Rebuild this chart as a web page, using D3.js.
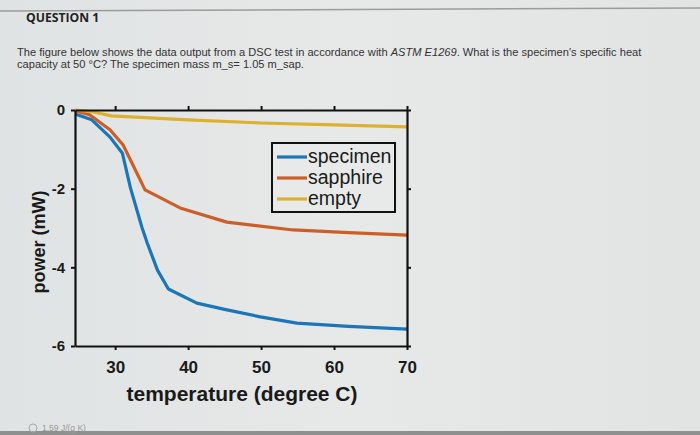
<!DOCTYPE html>
<html>
<head>
<meta charset="utf-8">
<script src="https://cdn.jsdelivr.net/npm/d3@7"></script>
<style>
  html, body { margin: 0; padding: 0; }
  body { width: 700px; height: 435px; overflow: hidden; background: #e5e7e7; }
  svg { display: block; }
</style>
</head>
<body>
<svg width="700" height="435"></svg>
<script>
// data
const temps = [24.5, 26.8, 29.3, 31.0, 32.1, 33.7, 34.4, 35.8, 37.3, 41.2, 45.0, 49.9, 54.9, 62.0, 70];
const specimen = [-0.1, -0.25, -0.69, -1.1, -1.98, -3.0, -3.38, -4.07, -4.55, -4.91, -5.07, -5.26, -5.42, -5.5, -5.57];
const sapphireT = [24.5, 26.5, 29.3, 31.1, 34.1, 38.9, 45.3, 54.4, 62.0, 70];
const sapphire = [-0.02, -0.12, -0.5, -0.89, -2.03, -2.49, -2.85, -3.05, -3.12, -3.18];
const emptyT = [24.5, 27.0, 29.5, 40, 50, 60, 70];
const empty = [0, -0.05, -0.15, -0.25, -0.33, -0.38, -0.43];
const xTicks = [30, 40, 50, 60, 70];
const yTicks = [-6, -4, -2, 0];
const seriesNames = ["specimen", "sapphire", "empty"];
const seriesColors = ["#1b75b8", "#cc5f28", "#ddb030"];

const svg = d3.select("svg");

// page background + screen edges
const grad = svg.append("defs").append("linearGradient").attr("id", "bg")
  .attr("x1", 0).attr("x2", 1).attr("y1", 0).attr("y2", 0);
grad.append("stop").attr("offset", 0).attr("stop-color", "#e0e3e3");
grad.append("stop").attr("offset", 0.5).attr("stop-color", "#e7e9e9");
grad.append("stop").attr("offset", 1).attr("stop-color", "#e2e4e4");
svg.append("rect").attr("width", 700).attr("height", 435).attr("fill", "url(#bg)");
svg.append("line").attr("x1", 0).attr("x2", 700).attr("y1", 11).attr("y2", 8)
  .attr("stroke", "#9a9c9c").attr("stroke-width", 1.5);
svg.append("rect").attr("x", 0).attr("y", 431).attr("width", 700).attr("height", 4).attr("fill", "#8e9090");

// question text
svg.append("text").attr("x", 26).attr("y", 22)
  .attr("font-family", "Open Sans, sans-serif").attr("font-weight", "bold")
  .attr("font-size", 12.2).attr("fill", "#222").text("QUESTION 1");

const q = svg.append("text").attr("font-family", "Liberation Sans, Arial, sans-serif")
  .attr("font-size", 11.1).attr("fill", "#333");
q.append("tspan").attr("x", 17).attr("y", 56).text("The figure below shows the data output from a DSC test in accordance with ");
q.append("tspan").attr("font-style", "italic").text("ASTM E1269");
q.append("tspan").text(". What is the specimen's specific heat");
svg.append("text").attr("x", 17).attr("y", 68)
  .attr("font-family", "Liberation Sans, Arial, sans-serif")
  .attr("font-size", 11.1).attr("fill", "#333")
  .text("capacity at 50 \u00b0C? The specimen mass m_s= 1.05 m_sap.");

// cut-off answer option
svg.append("circle").attr("cx", 33).attr("cy", 428).attr("r", 4)
  .attr("fill", "none").attr("stroke", "#aaa").attr("stroke-width", 1);
svg.append("text").attr("x", 42).attr("y", 431)
  .attr("font-family", "Liberation Sans, Arial, sans-serif")
  .attr("font-size", 8.5).attr("fill", "#999").text("1.59 J/(g K)");

// chart
const x = d3.scaleLinear().domain([24.5, 70]).range([75, 407]);
const y = d3.scaleLinear().domain([-6, 0]).range([346, 110]);

const line = d3.line().x(d => x(d[0])).y(d => y(d[1]));
const series = [
  d3.zip(temps, specimen),
  d3.zip(sapphireT, sapphire),
  d3.zip(emptyT, empty)
];

svg.selectAll(".series")
  .data(series)
  .enter().append("path")
    .attr("class", "series")
    .attr("d", line)
    .attr("fill", "none")
    .attr("stroke", (d, i) => seriesColors[i])
    .attr("stroke-width", 3.2)
    .attr("stroke-linejoin", "round");

// axes (boxed, ticks outward)
const styleAxis = g => {
  g.select(".domain").attr("stroke", "#111").attr("stroke-width", 2.2);
  g.selectAll(".tick line").attr("stroke", "#111").attr("stroke-width", 2);
  g.selectAll(".tick text")
    .attr("font-family", "Liberation Sans, Arial, sans-serif")
    .attr("font-weight", "bold").attr("fill", "#1a1a1a");
};

svg.append("g").attr("transform", `translate(0,${y(-6)})`)
  .call(d3.axisBottom(x).tickValues(xTicks).tickSize(4).tickSizeOuter(0).tickPadding(11))
  .call(styleAxis)
  .call(g => g.selectAll(".tick text").attr("font-size", 17));

svg.append("g").attr("transform", `translate(0,${y(0)})`)
  .call(d3.axisTop(x).tickValues(xTicks).tickSize(4).tickSizeOuter(0).tickFormat(""))
  .call(styleAxis);

svg.append("g").attr("transform", `translate(${x(24.5)},0)`)
  .call(d3.axisLeft(y).tickValues(yTicks).tickSize(4).tickSizeOuter(0).tickPadding(6)
    .tickFormat(d => String(d)))
  .call(styleAxis)
  .call(g => g.selectAll(".tick text").attr("font-size", 15));

svg.append("g").attr("transform", `translate(${x(70)},0)`)
  .call(d3.axisRight(y).tickValues(yTicks).tickSize(4).tickSizeOuter(0).tickFormat(""))
  .call(styleAxis);

// axis titles
svg.append("text").attr("x", 242).attr("y", 401).attr("text-anchor", "middle")
  .attr("font-family", "Liberation Sans, Arial, sans-serif").attr("font-weight", "bold")
  .attr("font-size", 21).attr("fill", "#1a1a1a").text("temperature (degree C)");

svg.append("text").attr("transform", "translate(45,242) rotate(-90)").attr("text-anchor", "middle")
  .attr("font-family", "Liberation Sans, Arial, sans-serif").attr("font-weight", "bold")
  .attr("font-size", 18).attr("fill", "#1a1a1a").text("power (mW)");

// legend
const legend = svg.append("g").attr("transform", "translate(272,143)");
legend.append("rect").attr("width", 123).attr("height", 69)
  .attr("fill", "#e8eaea").attr("stroke", "#111").attr("stroke-width", 2);
const item = legend.selectAll(".legends")
  .data(seriesNames)
  .enter().append("g").attr("class", "legends")
  .attr("transform", (d, i) => `translate(0,${14 + i * 21})`);
item.append("line").attr("x1", 5).attr("x2", 35).attr("y1", 0).attr("y2", 0)
  .attr("stroke", (d, i) => seriesColors[i]).attr("stroke-width", 3.2);
item.append("text").attr("x", 36).attr("y", 6)
  .attr("font-family", "Liberation Sans, Arial, sans-serif")
  .attr("font-size", 19.5).attr("fill", "#1a1a1a").text(d => d);
</script>
</body>
</html>
